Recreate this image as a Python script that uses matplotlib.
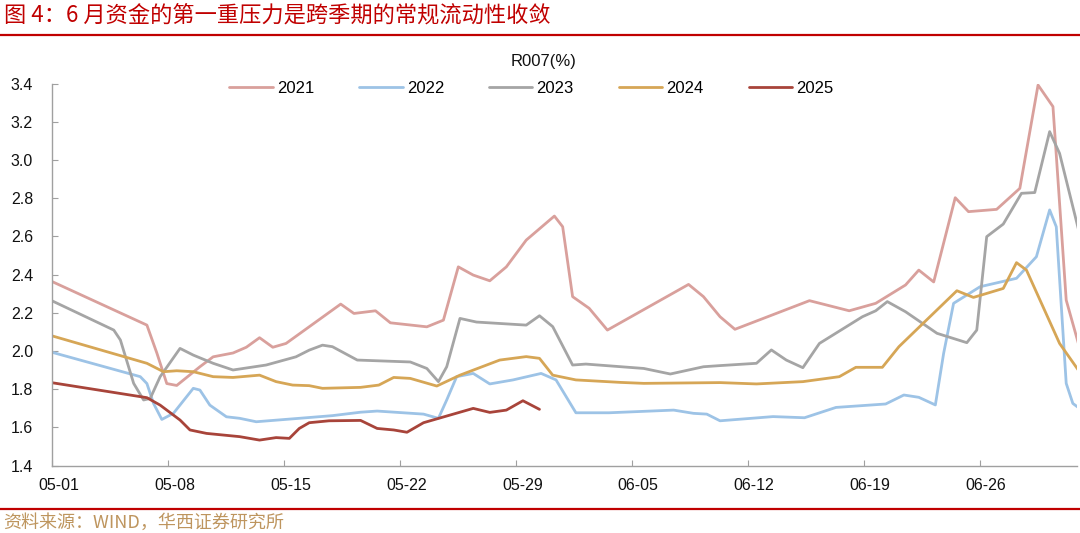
import numpy as np
import matplotlib
matplotlib.use("Agg")
import matplotlib.pyplot as plt
import matplotlib.transforms as mtransforms

plt.rcParams['font.family'] = ['Liberation Sans', 'Noto Sans CJK SC', 'DejaVu Sans']

# days counted from 05-01
x2021 = [0, 5.7, 6.3, 6.9, 7.5, 8.9, 9.7, 10.9, 11.7, 12.5, 13.3, 14.1, 17.4, 18.2, 19.5, 20.4, 22.6, 23.6,
         24.5, 25.4, 26.4, 27.4, 28.6, 30.3, 30.8, 31.4, 32.4, 33.5, 38.4, 39.3, 40.3, 41.2, 45.7, 48.1,
         49.7, 51.5, 52.3, 53.2, 54.5, 55.3, 57.0, 58.4, 59.5, 60.4, 61.2, 62.0]
y2021 = [2.363, 2.136, 1.99, 1.83, 1.82, 1.918, 1.97, 1.99, 2.02, 2.07, 2.02, 2.04, 2.246, 2.197, 2.211, 2.148,
         2.127, 2.162, 2.441, 2.398, 2.368, 2.441, 2.581, 2.707, 2.651, 2.285, 2.224, 2.11, 2.349, 2.285, 2.18,
         2.114, 2.264, 2.211, 2.25, 2.346, 2.424, 2.362, 2.803, 2.73, 2.742, 2.852, 3.393, 3.28, 2.267, 2.02]

x2022 = [0, 5.3, 5.7, 6.1, 6.6, 7.3, 8.5, 8.9, 9.5, 10.5, 11.3, 12.3, 14.9, 16.9, 18.6, 19.6, 22.4, 23.3,
         23.8, 24.4, 25.4, 26.4, 27.8, 29.5, 30.4, 31.6, 33.6, 37.5, 38.7, 39.5, 40.3, 43.5, 45.4, 47.3,
         50.3, 51.4, 52.3, 53.3, 53.8, 54.4, 56.0, 58.2, 59.4, 60.2, 60.6, 61.2, 61.6, 62.0]
y2022 = [1.993, 1.866, 1.83, 1.726, 1.642, 1.674, 1.805, 1.796, 1.717, 1.656, 1.648, 1.63, 1.648, 1.662, 1.68,
         1.686, 1.67, 1.648, 1.744, 1.866, 1.883, 1.828, 1.849, 1.883, 1.849, 1.677, 1.677, 1.691, 1.674, 1.67,
         1.635, 1.657, 1.651, 1.705, 1.723, 1.77, 1.758, 1.718, 1.988, 2.25, 2.337, 2.381, 2.494, 2.739, 2.651,
         1.831, 1.726, 1.70]

x2023 = [0, 3.7, 4.1, 4.9, 5.5, 5.9, 6.5, 7.7, 8.5, 9.7, 10.9, 12.9, 14.7, 15.5, 16.3, 16.9, 18.4, 21.6,
         22.6, 23.3, 23.8, 24.6, 25.6, 28.6, 29.4, 30.2, 31.4, 32.2, 35.7, 37.3, 39.3, 40.3, 42.5, 43.4,
         44.3, 45.3, 46.3, 48.9, 49.7, 50.4, 51.5, 53.4, 55.2, 55.8, 56.4, 57.4, 58.5, 59.3, 60.2, 60.8, 62.0]
y2023 = [2.262, 2.11, 2.058, 1.831, 1.744, 1.752, 1.866, 2.014, 1.979, 1.936, 1.901, 1.927, 1.97, 2.005, 2.031,
         2.023, 1.953, 1.943, 1.909, 1.84, 1.918, 2.171, 2.152, 2.136, 2.185, 2.128, 1.927, 1.932, 1.909, 1.88,
         1.918, 1.924, 1.936, 2.006, 1.953, 1.913, 2.04, 2.18, 2.211, 2.259, 2.206, 2.093, 2.044, 2.11, 2.599,
         2.665, 2.826, 2.83, 3.149, 3.035, 2.616]

x2024 = [0, 5.7, 6.7, 7.5, 8.5, 9.7, 10.9, 12.5, 13.5, 14.5, 15.5, 16.3, 18.6, 19.7, 20.6, 21.6, 23.2, 24.6,
         27.0, 28.6, 29.4, 30.2, 31.6, 34.3, 35.7, 40.3, 42.5, 45.3, 47.5, 48.5, 50.1, 51.1, 54.6, 55.6,
         57.4, 58.2, 58.8, 60.8, 62.0]
y2024 = [2.079, 1.936, 1.892, 1.897, 1.892, 1.866, 1.862, 1.874, 1.84, 1.822, 1.819, 1.805, 1.81, 1.822, 1.862,
         1.857, 1.817, 1.874, 1.953, 1.971, 1.962, 1.874, 1.849, 1.836, 1.831, 1.835, 1.828, 1.84, 1.866, 1.915,
         1.915, 2.023, 2.316, 2.281, 2.328, 2.463, 2.424, 2.04, 1.892]

x2025 = [0, 5.7, 6.5, 7.7, 8.3, 9.3, 11.3, 12.5, 13.5, 14.3, 14.9, 15.5, 16.7, 18.6, 19.6, 20.6, 21.4, 22.4,
         25.4, 26.4, 27.4, 28.4, 29.4]
y2025 = [1.834, 1.756, 1.717, 1.639, 1.587, 1.569, 1.552, 1.534, 1.547, 1.543, 1.595, 1.625, 1.635, 1.637, 1.595,
         1.587, 1.575, 1.625, 1.70, 1.679, 1.691, 1.74, 1.695]

years = ['2021', '2022', '2023', '2024', '2025']
colors = ['#D9A09C', '#9DC3E6', '#A5A5A5', '#D6A656', '#A8443A']
tick_days = [0, 7, 14, 21, 28, 35, 42, 49, 56]
tick_labels = ['05-01', '05-08', '05-15', '05-22', '05-29', '06-05', '06-12', '06-19', '06-26']

fig = plt.figure(figsize=(10.8, 5.33), dpi=100)
ax = fig.add_axes([0.0486, 0.1263, 0.9486, 0.7167])

series = [(x2021, y2021), (x2022, y2022), (x2023, y2023), (x2024, y2024), (x2025, y2025)]
for (xs, ys), yr, c in zip(series, years, colors):
    ax.plot(xs, ys, color=c, lw=2.0, label=yr, solid_joinstyle='round', solid_capstyle='round')

ax.set_xlim(0, 61.85)
ax.set_ylim(1.4, 3.4)
ax.set_yticks(np.arange(1.4, 3.41, 0.2))
ax.set_yticklabels([f"{v:.1f}" for v in np.arange(1.4, 3.41, 0.2)])
ax.set_xticks(tick_days)
ax.set_xticklabels(tick_labels)
for s in ['top', 'right']:
    ax.spines[s].set_visible(False)
for s in ['left', 'bottom']:
    ax.spines[s].set_color('#A0A0A0')
    ax.spines[s].set_linewidth(1.0)
ax.tick_params(axis='both', direction='in', length=4, color='#A0A0A0', labelsize=11.5, labelcolor='#111111')
ax.tick_params(axis='x', pad=9)
ax.tick_params(axis='y', pad=14)
offset = mtransforms.ScaledTranslation(0.06, 0, fig.dpi_scale_trans)
for lab in ax.get_xticklabels():
    lab.set_transform(lab.get_transform() + offset)

fig.text(0.503, 0.885, 'R007(%)', ha='center', va='center', fontsize=12, color='#111111')
fig.legend(loc='center', bbox_to_anchor=(0.492, 0.834), ncol=5, frameon=False, fontsize=12,
           handlelength=2.6, handletextpad=0.25, columnspacing=2.7)

# header and footer
fig.text(0.004, 0.972, '图 4：6 月资金的第一重压力是跨季期的常规流动性收敛', ha='left', va='center',
         fontsize=16, color='#C00000', family=['Noto Sans CJK SC', 'DejaVu Sans'])
fig.add_artist(plt.Line2D([0, 1], [0.934, 0.934], color='#C00000', lw=1.6, transform=fig.transFigure))
fig.add_artist(plt.Line2D([0, 1], [0.045, 0.045], color='#C00000', lw=1.6, transform=fig.transFigure))
fig.text(0.003, 0.019, '资料来源：WIND，华西证券研究所', ha='left', va='center',
         fontsize=13, color='#BE955E', family=['Noto Sans CJK SC', 'DejaVu Sans'])

fig.savefig('out.png', dpi=100)
